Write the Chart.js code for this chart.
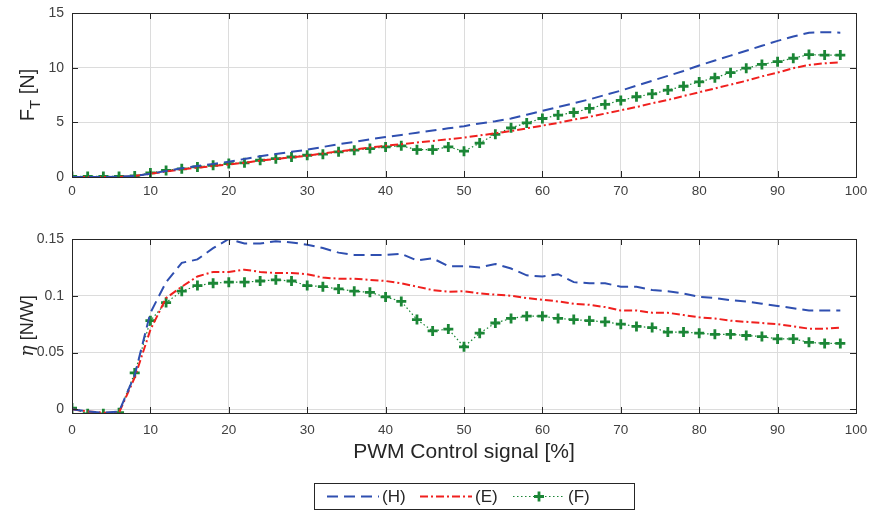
<!DOCTYPE html>
<html>
<head>
<meta charset="utf-8">
<script src="https://cdn.jsdelivr.net/npm/chart.js@4.4.1/dist/chart.umd.min.js"></script>
<style>
  html, body { margin: 0; padding: 0; background: #fff; }
  #wrap { position: relative; width: 886px; height: 512px; }
  #c1, #c2 { position: absolute; left: 0; }
  #c1 { top: 0; }
  #c2 { top: 215px; }
</style>
</head>
<body>
<div id="wrap">
  <div id="c1" style="width:886px;height:215px"><canvas id="thrust"></canvas></div>
  <div id="c2" style="width:886px;height:297px"><canvas id="eff"></canvas></div>
</div>
<script>
// PWM signal steps
const pwm = [0,2,4,6,8,10,12,14,16,18,20,22,24,26,28,30,32,34,36,38,40,42,44,46,48,
             50,52,54,56,58,60,62,64,66,68,70,72,74,76,78,80,82,84,86,88,90,92,94,96,98];

// thrust F_T [N]
const thrustH = [0,0,0,0.02,0.1,0.3,0.55,0.8,1.0,1.2,1.4,1.65,1.9,2.1,2.3,2.5,2.75,3.0,3.2,3.45,
                 3.65,3.85,4.05,4.25,4.45,4.65,4.9,5.1,5.35,5.7,6.05,6.4,6.75,7.1,7.5,7.9,8.35,8.8,9.25,9.7,
                 10.2,10.65,11.1,11.55,12.0,12.45,12.85,13.2,13.25,13.2];
const thrustE = [0,0,0,0,0.1,0.3,0.5,0.7,0.85,1.0,1.15,1.3,1.5,1.65,1.8,1.95,2.15,2.35,2.5,2.7,
                 2.85,3.0,3.15,3.3,3.45,3.6,3.8,4.0,4.2,4.45,4.7,4.95,5.25,5.5,5.8,6.1,6.4,6.75,7.05,7.4,
                 7.75,8.1,8.45,8.8,9.2,9.55,9.95,10.25,10.4,10.5];
const thrustF = [0.05,0.05,0.05,0.05,0.1,0.37,0.6,0.75,0.92,1.07,1.23,1.3,1.53,1.68,1.83,1.99,2.09,2.3,2.45,2.6,
                 2.75,2.85,2.5,2.5,2.75,2.36,3.1,3.9,4.5,4.95,5.35,5.66,5.9,6.27,6.64,7.0,7.34,7.6,7.95,8.3,
                 8.7,9.08,9.54,9.95,10.3,10.55,10.86,11.2,11.15,11.15];

// efficiency eta [N/W]
const etaH = [0,-0.002,-0.003,-0.002,0.03,0.085,0.112,0.129,0.132,0.142,0.15,0.146,0.146,0.148,0.147,0.145,0.142,0.138,0.136,0.136,
              0.136,0.137,0.131,0.133,0.126,0.126,0.125,0.128,0.124,0.118,0.117,0.119,0.112,0.111,0.111,0.108,0.108,0.105,0.104,0.102,
              0.099,0.098,0.096,0.095,0.093,0.091,0.089,0.087,0.087,0.087];
const etaE = [0,-0.002,-0.003,-0.003,0.028,0.07,0.098,0.108,0.117,0.121,0.121,0.123,0.121,0.12,0.12,0.119,0.116,0.115,0.115,0.114,
              0.113,0.111,0.108,0.105,0.1035,0.104,0.102,0.101,0.1,0.098,0.0965,0.095,0.093,0.092,0.09,0.087,0.087,0.085,0.085,0.083,
              0.081,0.08,0.078,0.077,0.076,0.075,0.073,0.071,0.071,0.072];
const etaF = [0.001,-0.004,-0.004,-0.003,0.032,0.078,0.094,0.104,0.109,0.111,0.112,0.112,0.113,0.114,0.113,0.109,0.108,0.106,0.104,0.103,
              0.099,0.095,0.079,0.069,0.0706,0.055,0.067,0.076,0.08,0.082,0.082,0.08,0.079,0.078,0.077,0.075,0.073,0.072,0.068,0.068,
              0.067,0.066,0.066,0.065,0.064,0.062,0.062,0.059,0.058,0.058];

const xTicks = [0,10,20,30,40,50,60,70,80,90,100];
const thrustTicks = [0,5,10,15];
const etaTicks = [0,0.05,0.1,0.15];
const seriesNames = ['(H)', '(E)', '(F)'];

const FONT = 'Liberation Sans, Arial, Helvetica, sans-serif';
const BLUE = '#2f4fb0', RED = '#f0201e', GREEN = '#1b8636';

function pts(ys) { return pwm.map((x, i) => ({ x: x, y: ys[i] })); }

function makeSets(h, e, f) {
  return [
    { label: seriesNames[0], data: pts(h), borderColor: BLUE, borderWidth: 2, borderDash: [11, 6], pointRadius: 0 },
    { label: seriesNames[1], data: pts(e), borderColor: RED, borderWidth: 2, borderDash: [8, 3, 2, 3], pointRadius: 0 },
    { label: seriesNames[2], data: pts(f), borderColor: GREEN, borderWidth: 1.2, borderDash: [1.5, 2.5],
      pointStyle: 'cross', pointRadius: 5, pointBorderWidth: 2.8, pointBorderColor: GREEN, pointBackgroundColor: GREEN }
  ];
}

// box + inward ticks on all four sides
const boxPlugin = {
  id: 'box',
  afterDatasetsDraw(chart) {
    const a = chart.chartArea, ctx = chart.ctx;
    const xs = chart.scales.x, ys = chart.scales.y;
    ctx.save();
    ctx.strokeStyle = '#262626';
    ctx.lineWidth = 1;
    ctx.setLineDash([]);
    ctx.beginPath();
    xs.ticks.forEach(t => {
      const px = Math.round(xs.getPixelForValue(t.value)) + 0.5;
      ctx.moveTo(px, a.bottom); ctx.lineTo(px, a.bottom - 6);
      ctx.moveTo(px, a.top); ctx.lineTo(px, a.top + 6);
    });
    ys.ticks.forEach(t => {
      const py = Math.round(ys.getPixelForValue(t.value)) + 0.5;
      ctx.moveTo(a.left, py); ctx.lineTo(a.left + 6, py);
      ctx.moveTo(a.right, py); ctx.lineTo(a.right - 6, py);
    });
    ctx.stroke();
    ctx.strokeRect(Math.round(a.left) + 0.5, Math.round(a.top) + 0.5,
                   Math.round(a.right - a.left), Math.round(a.bottom - a.top));
    ctx.restore();
  }
};

// rotated y title, parts may be subscripted
function yTitlePlugin(parts, cx) {
  return {
    id: 'ytitle',
    afterDraw(chart) {
      const a = chart.chartArea, ctx = chart.ctx;
      ctx.save();
      ctx.translate(cx, (a.top + a.bottom) / 2);
      ctx.rotate(-Math.PI / 2);
      ctx.fillStyle = '#262626';
      ctx.textBaseline = 'alphabetic';
      let total = 0;
      parts.forEach(p => { ctx.font = p.font; total += ctx.measureText(p.text).width; });
      let x = -total / 2;
      parts.forEach(p => {
        ctx.font = p.font;
        ctx.fillText(p.text, x, p.dy || 0);
        x += ctx.measureText(p.text).width;
      });
      ctx.restore();
    }
  };
}

// legend box under the lower plot
const legendPlugin = {
  id: 'boxLegend',
  afterDraw(chart) {
    const ctx = chart.ctx;
    const left = 314, top = 268, w = 320, h = 26;
    ctx.save();
    ctx.fillStyle = '#fff';
    ctx.fillRect(left, top, w, h);
    ctx.strokeStyle = '#262626';
    ctx.lineWidth = 1;
    ctx.strokeRect(left + 0.5, top + 0.5, w, h);
    const cy = top + h / 2 + 0.5;
    const starts = [327, 420, 513];
    ctx.font = '17px ' + FONT;
    ctx.textBaseline = 'middle';
    chart.data.datasets.forEach((ds, i) => {
      const x0 = starts[i], x1 = x0 + 52;
      ctx.strokeStyle = ds.borderColor;
      ctx.lineWidth = ds.borderWidth;
      ctx.setLineDash(ds.borderDash);
      ctx.beginPath(); ctx.moveTo(x0, cy); ctx.lineTo(x1, cy); ctx.stroke();
      ctx.setLineDash([]);
      if (ds.pointStyle === 'cross') {
        const mx = (x0 + x1) / 2, r = ds.pointRadius;
        ctx.lineWidth = ds.pointBorderWidth;
        ctx.beginPath();
        ctx.moveTo(mx - r, cy); ctx.lineTo(mx + r, cy);
        ctx.moveTo(mx, cy - r); ctx.lineTo(mx, cy + r);
        ctx.stroke();
      }
      ctx.fillStyle = '#262626';
      ctx.fillText(ds.label, x1 + 3, cy + 1);
    });
    ctx.restore();
  }
};

function axisOpts(yMin, yMax, yTickVals, xHeight, xPad, showTitle) {
  return {
    x: {
      type: 'linear', min: 0, max: 100,
      afterBuildTicks: s => { s.ticks = xTicks.map(v => ({ value: v })); },
      afterFit: s => { s.height = xHeight; },
      grid: { color: '#dcdcdc', lineWidth: 1, drawTicks: false },
      border: { display: false },
      ticks: { color: '#404040', font: { family: FONT, size: 13.5 }, padding: xPad, maxRotation: 0,
               callback: v => String(v) },
      title: { display: showTitle, text: 'PWM Control signal [%]', color: '#262626',
               font: { family: FONT, size: 21 }, padding: { top: 4, bottom: 0 } }
    },
    y: {
      type: 'linear', min: yMin, max: yMax,
      afterBuildTicks: s => { s.ticks = yTickVals.map(v => ({ value: v })); },
      // fixed axis width; label overhang is covered by the layout padding
      afterFit: s => { s.width = 72; s.paddingTop = 0; s.paddingBottom = 0; },
      grid: { color: '#dcdcdc', lineWidth: 1, drawTicks: false },
      border: { display: false },
      ticks: { color: '#404040', font: { family: FONT, size: 14 }, padding: 8,
               callback: v => String(v) }
    }
  };
}

const common = {
  responsive: true, maintainAspectRatio: false, animation: false,
  plugins: { legend: { display: false }, tooltip: { enabled: false } },
  elements: { line: { tension: 0, fill: false } }
};

new Chart(document.getElementById('thrust'), {
  type: 'line',
  data: { datasets: makeSets(thrustH, thrustE, thrustF) },
  options: Object.assign({}, common, {
    layout: { padding: { left: 0, right: 30, top: 13, bottom: 0 } },
    scales: axisOpts(0, 15, thrustTicks, 38, 6, false)
  }),
  plugins: [boxPlugin, yTitlePlugin([
    { text: 'F', font: '20px ' + FONT },
    { text: 'T', font: '15px ' + FONT, dy: 6 },
    { text: ' [N]', font: '20px ' + FONT }
  ], 34)]
});

new Chart(document.getElementById('eff'), {
  type: 'line',
  data: { datasets: makeSets(etaH, etaE, etaF) },
  options: Object.assign({}, common, {
    layout: { padding: { left: 0, right: 30, top: 24, bottom: 47 } },
    scales: axisOpts(-0.0033, 0.15, etaTicks, 52, 9, true)
  }),
  plugins: [boxPlugin, legendPlugin, yTitlePlugin([
    { text: '\u03b7', font: 'italic 19px "DejaVu Serif", serif' },
    { text: ' [N/W]', font: '18px ' + FONT }
  ], 33)]
});
</script>
</body>
</html>
